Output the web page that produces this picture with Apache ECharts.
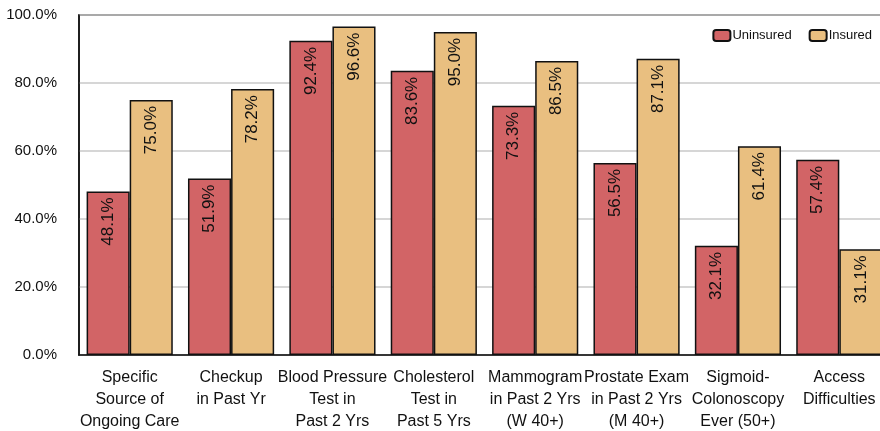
<!DOCTYPE html>
<html>
<head>
<meta charset="utf-8">
<script src="https://cdn.jsdelivr.net/npm/echarts@6/dist/echarts.min.js"></script>
<style>
  html, body { margin: 0; padding: 0; background: #fff; }
  #chart { width: 880px; height: 431px; }
</style>
</head>
<body>
<div id="chart"></div>
<script>
// Preventive-care measures, uninsured vs insured adults (percent)
const categories = [
  'Specific\nSource of\nOngoing Care',
  'Checkup\nin Past Yr',
  'Blood Pressure\nTest in\nPast 2 Yrs',
  'Cholesterol\nTest in\nPast 5 Yrs',
  'Mammogram\nin Past 2 Yrs\n(W 40+)',
  'Prostate Exam\nin Past 2 Yrs\n(M 40+)',
  'Sigmoid-\nColonoscopy\nEver (50+)',
  'Access\nDifficulties'
];
const uninsured = [48.1, 51.9, 92.4, 83.6, 73.3, 56.5, 32.1, 57.4];
const insured   = [75.0, 78.2, 96.6, 95.0, 86.5, 87.1, 61.4, 31.1];
const seriesNames = ['Uninsured', 'Insured'];
const yTicks = [0, 20, 40, 60, 80, 100];

const FONT = 'Liberation Sans, Arial, sans-serif';

const chart = echarts.init(document.getElementById('chart'), null, { renderer: 'canvas' });

const valueLabel = {
  show: true,
  position: 'insideTop',
  rotate: 90,
  align: 'right',
  verticalAlign: 'middle',
  distance: 6,
  fontFamily: FONT,
  fontSize: 17,
  color: '#111',
  formatter: p => p.value.toFixed(1) + '%'
};

chart.setOption({
  animation: false,
  backgroundColor: '#fff',
  grid: {
    left: 79, top: 15, width: 811, bottom: 76,
    outerBoundsMode: 'none',
    containLabel: false,
    show: true, borderColor: '#111', borderWidth: 1.5
  },
  legend: {
    data: seriesNames,
    right: 3, top: 24,
    itemWidth: 17, itemHeight: 11, itemGap: 17,
    textStyle: { fontFamily: FONT, fontSize: 13, color: '#111', padding: [0, 0, 0, -3] }
  },
  xAxis: {
    type: 'category',
    data: categories,
    axisLine: { show: true, lineStyle: { color: '#111', width: 1.5 } },
    axisTick: { show: false },
    axisLabel: {
      interval: 0, margin: 12,
      fontFamily: FONT, fontSize: 16, lineHeight: 22, color: '#111'
    }
  },
  yAxis: {
    type: 'value',
    min: yTicks[0], max: yTicks[yTicks.length - 1], interval: 20,
    axisLine: { show: true, lineStyle: { color: '#111', width: 1.5 } },
    axisTick: { show: false },
    splitLine: { lineStyle: { color: '#c8c8c8', width: 1.5 } },
    axisLabel: {
      margin: 22,
      fontFamily: FONT, fontSize: 15, color: '#111',
      formatter: v => v.toFixed(1) + '%'
    }
  },
  series: [
    {
      name: seriesNames[0], type: 'bar', data: uninsured,
      barGap: '0%', barCategoryGap: '15%',
      itemStyle: { color: '#d26466', borderColor: '#111', borderWidth: 1.5 },
      label: valueLabel
    },
    {
      name: seriesNames[1], type: 'bar', data: insured,
      barGap: '0%', barCategoryGap: '15%',
      itemStyle: { color: '#e9bf80', borderColor: '#111', borderWidth: 1.5 },
      label: valueLabel
    }
  ]
});
</script>
</body>
</html>
